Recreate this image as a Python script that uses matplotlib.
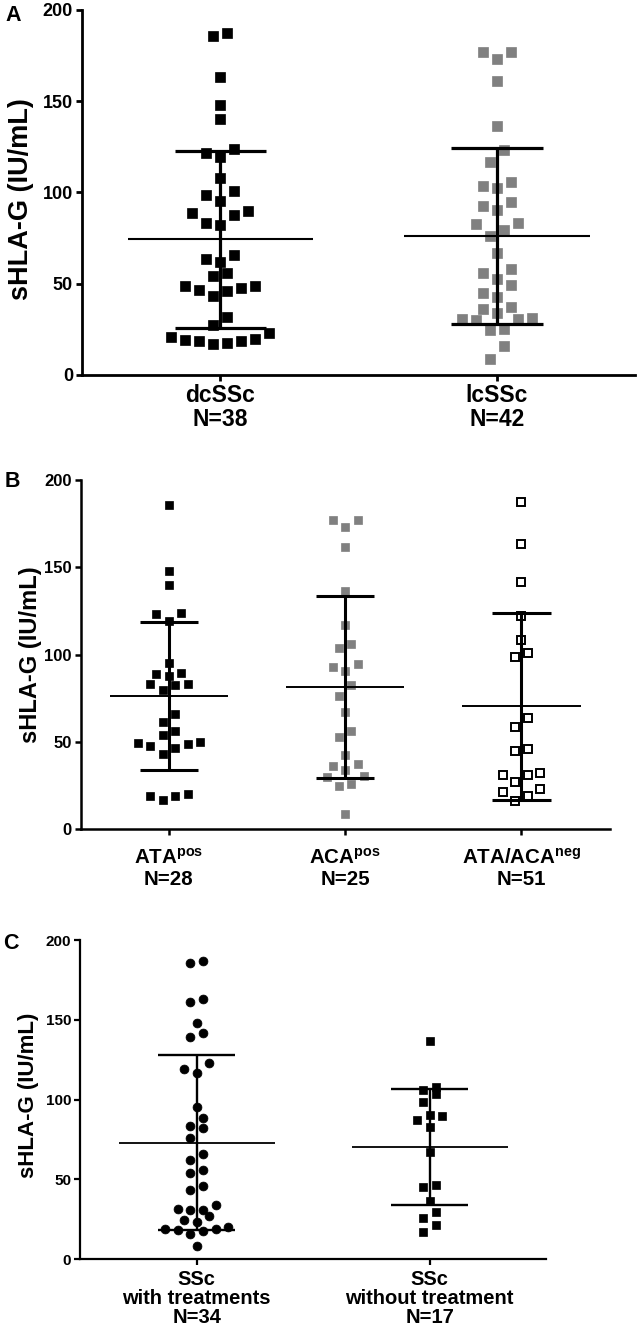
import matplotlib
matplotlib.use("Agg")
import matplotlib.pyplot as plt
import numpy as np

plt.rcParams['font.family'] = ['Liberation Sans', 'DejaVu Sans']
plt.rcParams['font.weight'] = 'bold'
plt.rcParams['mathtext.fontset'] = 'custom'
plt.rcParams['mathtext.rm'] = 'Liberation Sans'
plt.rcParams['mathtext.it'] = 'Liberation Sans:italic'
plt.rcParams['mathtext.bf'] = 'Liberation Sans:bold'

# ---- data (sHLA-G, IU/mL) ----
# panel A
a_labels = ["dcSSc\nN=38", "lcSSc\nN=42"]
dcssc = [187.2, 185.7, 163.4, 147.9, 140.0, 123.6, 121.4, 119.2, 108.0, 100.7,
         98.7, 95.4, 89.6, 89.0, 87.4, 83.4, 82.1, 66.0, 63.3, 62.0, 55.9, 54.1,
         48.8, 48.8, 47.5, 46.8, 45.9, 43.3, 31.8, 27.2, 23.2, 20.8, 19.9, 19.4,
         18.6, 18.6, 17.6, 16.8]
lcssc = [177.1, 176.8, 172.9, 161.2, 136.6, 123.2, 116.5, 105.8, 103.8, 102.6,
         94.7, 92.5, 90.3, 83.4, 82.6, 79.7, 76.1, 67.1, 58.1, 56.1, 52.7, 49.5,
         45.0, 42.8, 37.3, 36.2, 34.2, 31.3, 30.9, 30.7, 30.0, 25.4, 24.7, 16.1, 8.6]
a_mean = [74.3, 75.9]
a_sd = [48.4, 48.2]

# panel B
b_labels = ["ATA$^{\\mathrm{pos}}$\nN=28", "ACA$^{\\mathrm{pos}}$\nN=25",
            "ATA/ACA$^{\\mathrm{neg}}$\nN=51"]
ata_pos = [185.7, 147.9, 139.7, 123.7, 123.3, 119.3, 95.4, 89.3, 88.7, 87.8,
           83.0, 83.0, 82.3, 79.8, 66.0, 61.6, 55.9, 54.0, 49.6, 49.2, 48.9,
           47.7, 46.6, 43.1, 19.8, 19.1, 19.1, 16.8]
aca_pos = [177.1, 177.1, 172.9, 161.5, 136.6, 116.8, 106.1, 103.6, 94.7, 92.6,
           90.6, 82.6, 76.0, 67.0, 55.9, 52.5, 42.6, 37.4, 36.1, 34.0, 30.5,
           29.6, 25.8, 24.8, 8.6]
ata_aca_neg = [187.6, 163.5, 141.6, 121.8, 108.2, 100.8, 98.5, 63.4, 58.2, 45.8,
               44.5, 32.1, 31.1, 31.1, 27.1, 23.1, 21.2, 19.1, 16.2]
b_mean = [76.2, 81.4, 70.3]
b_sd = [42.2, 52.2, 53.4]

# panel C
c_labels = ["SSc\nwith treatments\nN=34", "SSc\nwithout treatment\nN=17"]
with_tr = [187.1, 185.4, 163.3, 161.0, 147.8, 141.5, 139.5, 123.0, 119.0, 116.5,
           95.2, 88.7, 83.1, 82.0, 75.6, 65.6, 61.8, 56.0, 53.9, 45.9, 43.0,
           34.0, 31.5, 30.9, 30.5, 26.7, 24.6, 23.4, 19.8, 19.0, 18.8, 18.4,
           17.7, 15.9, 8.4]
without_tr = [136.5, 107.7, 106.1, 103.6, 98.3, 90.4, 89.4, 87.3, 82.5, 67.4,
              46.6, 44.9, 36.1, 29.4, 25.7, 21.5, 16.9]
c_mean = [73.0, 70.2]
c_sd = [55.0, 36.6]

GRAY = '#808080'


def swarm(values, row_gap, step):
    # prism-like rows: values close together share a row, centred on the column
    values = np.asarray(values, dtype=float)
    order = np.argsort(values, kind='stable')
    vals = values[order]
    offs = np.zeros(len(vals))
    i = 0
    while i < len(vals):
        j = i
        while j < len(vals) and vals[j] - vals[i] < row_gap:
            j += 1
        n = j - i
        slots = sorted(np.arange(n) - (n - 1) / 2, key=lambda s: (abs(s), s))
        offs[i:j] = np.array(slots) * step
        i = j
    out = np.zeros(len(vals))
    out[order] = offs
    return out


def panel(ax, groups, means, sds, labels, markers, step, row_gap,
          ms, lw_spine, lw_mean, lw_bar, ytick_fs, xtick_fs, ylab_fs,
          ylab_xy, xpad, linesp):
    for k, vals in enumerate(groups):
        x = k + swarm(vals, row_gap, step)
        m = markers[k]
        ax.plot(x, vals, linestyle='none', marker=m['marker'], ms=ms,
                mfc=m['fc'], mec=m['ec'], mew=m['mew'], clip_on=False, zorder=3)
        mu, sd = means[k], sds[k]
        ax.hlines(mu, k - 0.335, k + 0.335, color='black', lw=lw_mean, zorder=4)
        ax.hlines([mu - sd, mu + sd], k - 0.165, k + 0.165, color='black',
                  lw=lw_bar, zorder=4)
        ax.vlines(k, mu - sd, mu + sd, color='black', lw=lw_bar, zorder=4)

    ax.set_xlim(-0.5, len(groups) - 0.5)
    ax.set_ylim(0, 200)
    ax.set_yticks([0, 50, 100, 150, 200])
    ax.set_xticks(range(len(groups)))
    ax.set_xticklabels(labels, fontsize=xtick_fs, fontweight='bold',
                       linespacing=linesp)
    for lab in ax.get_yticklabels():
        lab.set_fontsize(ytick_fs)
        lab.set_fontweight('bold')
    for s in ['top', 'right']:
        ax.spines[s].set_visible(False)
    for s in ['left', 'bottom']:
        ax.spines[s].set_linewidth(lw_spine)
    ax.tick_params(axis='y', direction='out', length=4.5, width=lw_spine, pad=2)
    ax.tick_params(axis='x', direction='out', length=4.5, width=lw_spine, pad=xpad)
    ax.set_ylabel('sHLA-G (IU/mL)', fontsize=ylab_fs, fontweight='bold')
    ax.yaxis.set_label_coords(*ylab_xy)


fig = plt.figure(figsize=(6.41, 13.26), dpi=100)

axA = fig.add_axes([0.128, 0.7172, 0.863, 0.2753])
black_sq = dict(marker='s', fc='black', ec='black', mew=0.5)
gray_sq = dict(marker='s', fc=GRAY, ec=GRAY, mew=0.5)
open_sq = dict(marker='s', fc='white', ec='black', mew=1.4)
black_ci = dict(marker='o', fc='black', ec='black', mew=0.5)

panel(axA, [dcssc, lcssc], a_mean, a_sd, a_labels, [black_sq, gray_sq],
      step=0.0505, row_gap=7.7, ms=6.8, lw_spine=2.0, lw_mean=1.5, lw_bar=2.3,
      ytick_fs=13, xtick_fs=16.5, ylab_fs=19.5, ylab_xy=(-0.087, 0.482),
      xpad=2, linesp=1.05)

axB = fig.add_axes([0.126, 0.3748, 0.825, 0.2632])
panel(axB, [ata_pos, aca_pos, ata_aca_neg], b_mean, b_sd, b_labels,
      [black_sq, gray_sq, open_sq],
      step=0.0705, row_gap=7.1, ms=6.3, lw_spine=1.8, lw_mean=1.4, lw_bar=2.2,
      ytick_fs=12, xtick_fs=14.8, ylab_fs=17, ylab_xy=(-0.073, 0.5),
      xpad=9, linesp=1.15)

axC = fig.add_axes([0.125, 0.0505, 0.727, 0.2406])
panel(axC, [with_tr, without_tr], c_mean, c_sd, c_labels, [black_ci, black_sq],
      step=0.0547, row_gap=7.0, ms=6.4, lw_spine=1.6, lw_mean=1.3, lw_bar=1.7,
      ytick_fs=11, xtick_fs=14.5, ylab_fs=16, ylab_xy=(-0.088, 0.514),
      xpad=3.5, linesp=0.98)

fig.text(0.020, 0.9880, 'A', fontsize=15.5, fontweight='bold', ha='center', va='center')
fig.text(0.019, 0.6370, 'B', fontsize=15.5, fontweight='bold', ha='center', va='center')
fig.text(0.017, 0.2885, 'C', fontsize=15.5, fontweight='bold', ha='center', va='center')

fig.savefig('out.png', dpi=100)
